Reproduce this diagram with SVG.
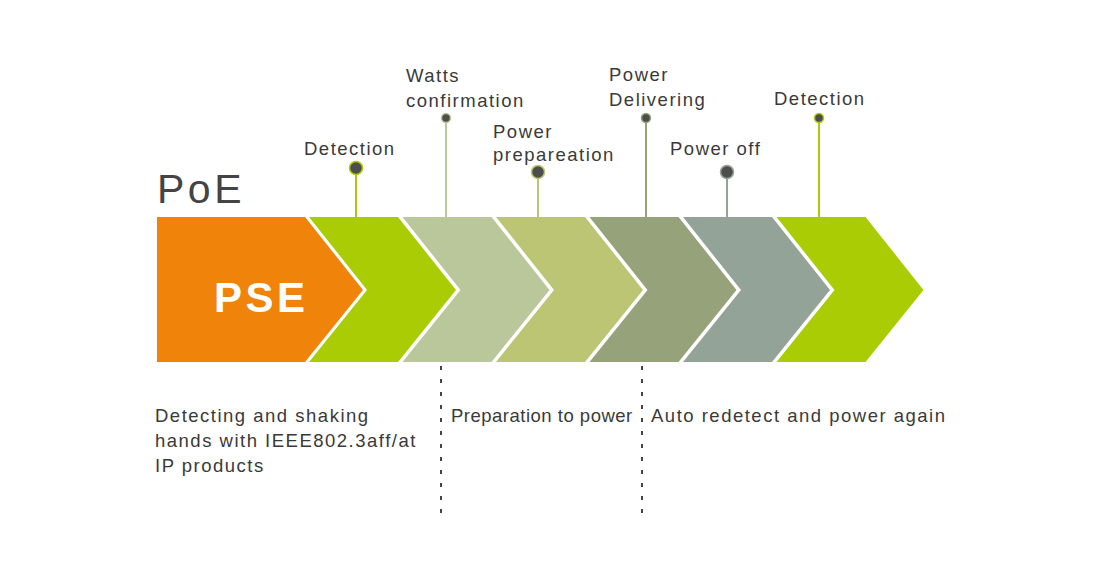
<svg xmlns="http://www.w3.org/2000/svg" width="1100" height="584" viewBox="0 0 1100 584">
<style>
.t{font-family:"Liberation Sans",Arial,sans-serif;font-size:18.5px;letter-spacing:1.5px;fill:#3a3a3a}
.pin{stroke-width:2;fill:none}
.dot{fill:#4d4d4d;stroke-width:1.5}
.dash{stroke:#444;stroke-width:2;stroke-dasharray:4 9;fill:none}
</style>
<rect width="1100" height="584" fill="#fff"/>
<text x="157" y="203" font-family="Liberation Sans,Arial,sans-serif" font-size="41" letter-spacing="3.5" fill="#444">PoE</text>
<g id="pse">
<polygon points="157,217 305,217 363,290 305,362 157,362" fill="#F0830A"/>
<text x="214" y="312" font-family="Liberation Sans,Arial,sans-serif" font-size="42" font-weight="bold" letter-spacing="3.5" fill="#fff">PSE</text>
</g>
<g id="step1"><polygon points="309,217 398,217 456,290 398,362 309,362 367,290" fill="#AACC04"/></g>
<g id="step2"><polygon points="402.5,217 491.5,217 549.5,290 491.5,362 402.5,362 460.5,290" fill="#B9C79B"/></g>
<g id="step3"><polygon points="496,217 585,217 643,290 585,362 496,362 554,290" fill="#BCC573"/></g>
<g id="step4"><polygon points="589.5,217 678.5,217 736.5,290 678.5,362 589.5,362 647.5,290" fill="#96A37A"/></g>
<g id="step5"><polygon points="683,217 772,217 830,290 772,362 683,362 741,290" fill="#94A398"/></g>
<g id="step6"><polygon points="776.5,217 865.5,217 923.5,290 865.5,362 776.5,362 834.5,290" fill="#AACC04"/></g>
<g id="connectors">
<line class="pin" x1="356" y1="168" x2="356" y2="217" stroke="#AACC04"/>
<line class="pin" x1="446" y1="118" x2="446" y2="217" stroke="#B9C79B"/>
<line class="pin" x1="538" y1="172" x2="538" y2="217" stroke="#BCC573"/>
<line class="pin" x1="646" y1="118" x2="646" y2="217" stroke="#96A37A"/>
<line class="pin" x1="727" y1="172" x2="727" y2="217" stroke="#94A398"/>
<line class="pin" x1="819" y1="118" x2="819" y2="217" stroke="#AACC04"/>
<line class="dash" x1="441" y1="366" x2="441" y2="520"/>
<line class="dash" x1="642" y1="366" x2="642" y2="520"/>
</g>
<g id="label-detection1">
<circle class="dot" cx="356" cy="168" r="6.5" stroke="#AACC04"/>
<text class="t" x="304" y="155">Detection</text>
</g>
<g id="label-watts">
<circle class="dot" cx="446" cy="118" r="4.5" stroke="#B9C79B"/>
<text class="t" x="406" y="82">Watts</text>
<text class="t" x="406" y="107">confirmation</text>
</g>
<g id="label-prep">
<circle class="dot" cx="538" cy="172" r="6.5" stroke="#BCC573"/>
<text class="t" x="493" y="138">Power</text>
<text class="t" x="493" y="161">prepareation</text>
</g>
<g id="label-deliver">
<circle class="dot" cx="646" cy="118" r="4.5" stroke="#96A37A"/>
<text class="t" x="609" y="81">Power</text>
<text class="t" x="609" y="106">Delivering</text>
</g>
<g id="label-off">
<circle class="dot" cx="727" cy="172" r="6.5" stroke="#94A398"/>
<text class="t" x="670" y="155">Power off</text>
</g>
<g id="label-detection2">
<circle class="dot" cx="819" cy="118" r="4.5" stroke="#AACC04"/>
<text class="t" x="774" y="105">Detection</text>
</g>
<g id="desc1">
<text class="t" x="155" y="422">Detecting and shaking</text>
<text class="t" x="155" y="447">hands with IEEE802.3aff/at</text>
<text class="t" x="155" y="472">IP products</text>
</g>
<g id="desc2"><text class="t" x="451" y="422" style="letter-spacing:0.5px">Preparation to power</text></g>
<g id="desc3"><text class="t" x="651" y="422">Auto redetect and power again</text></g>
</svg>
